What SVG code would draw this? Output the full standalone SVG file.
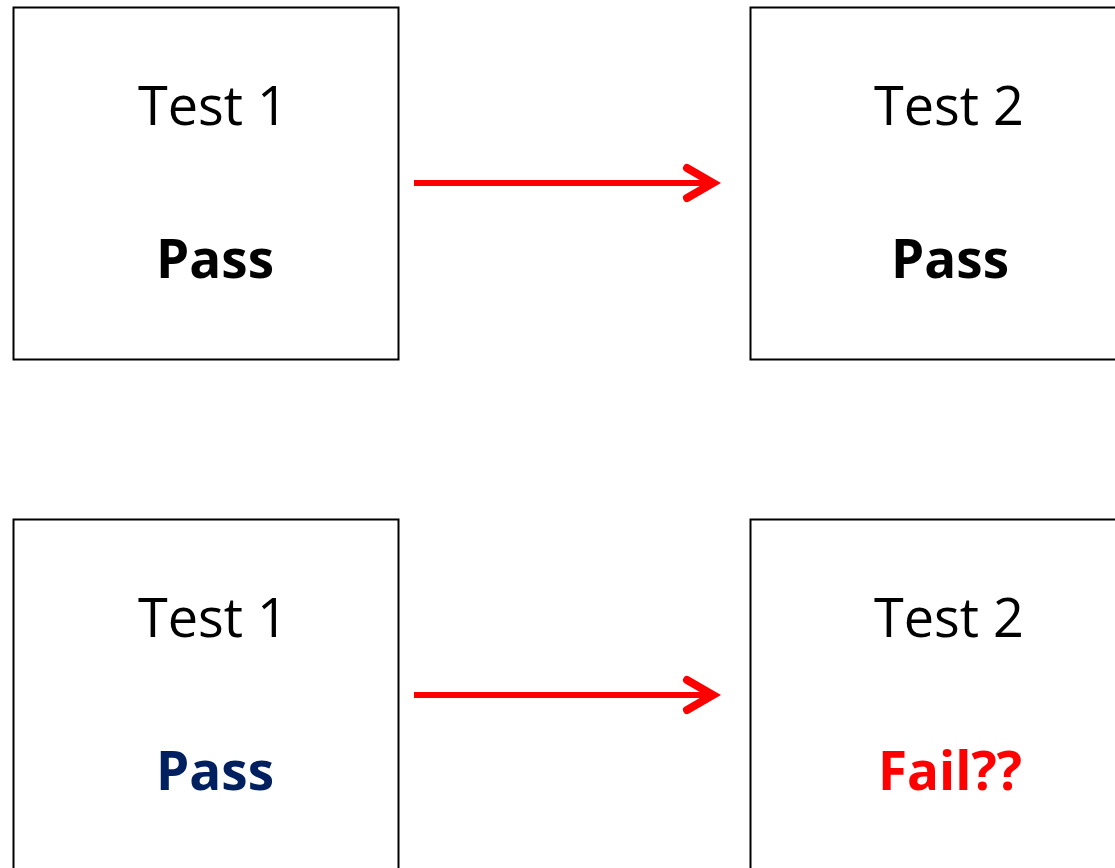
<svg xmlns="http://www.w3.org/2000/svg" width="1115" height="868" viewBox="0 0 1115 868">
  <style>
    .box { fill: #ffffff; stroke: #000000; stroke-width: 2; }
    .title { font-family: "Open Sans", "Liberation Sans", sans-serif; font-size: 54px; fill: #000000; text-anchor: middle; }
    .status { font-family: "Open Sans", "Liberation Sans", sans-serif; font-size: 53px; font-weight: bold; text-anchor: middle; }
    .link { stroke: #ff0000; stroke-width: 6; fill: none; stroke-linecap: butt; }
    .head { stroke: #ff0000; stroke-width: 8; fill: none; stroke-linecap: round; stroke-linejoin: miter; }
  </style>
  <rect width="1115" height="868" fill="#ffffff"/>

  <g id="top-test1">
    <rect class="box" x="13.5" y="7.5" width="385" height="352"/>
    <text class="title" x="213" y="125">Test 1</text>
    <text class="status" x="215" y="278" fill="#000000">Pass</text>
  </g>
  <g id="top-test2">
    <rect class="box" x="750.5" y="7.5" width="385" height="352"/>
    <text class="title" x="949" y="125">Test 2</text>
    <text class="status" x="950" y="278" fill="#000000">Pass</text>
  </g>
  <g id="bottom-test1">
    <rect class="box" x="13.5" y="519.5" width="385" height="352"/>
    <text class="title" x="213" y="637">Test 1</text>
    <text class="status" x="215" y="790" fill="#002060">Pass</text>
  </g>
  <g id="bottom-test2">
    <rect class="box" x="750.5" y="519.5" width="385" height="352"/>
    <text class="title" x="949" y="637">Test 2</text>
    <text class="status" x="950" y="790" fill="#ff0000">Fail??</text>
  </g>

  <g id="connectors">
    <line class="link" x1="414" y1="183" x2="712" y2="183"/>
    <polyline class="head" points="687,168 713,183 687,198"/>
    <line class="link" x1="414" y1="695" x2="712" y2="695"/>
    <polyline class="head" points="687,680 713,695 687,710"/>
  </g>
</svg>
